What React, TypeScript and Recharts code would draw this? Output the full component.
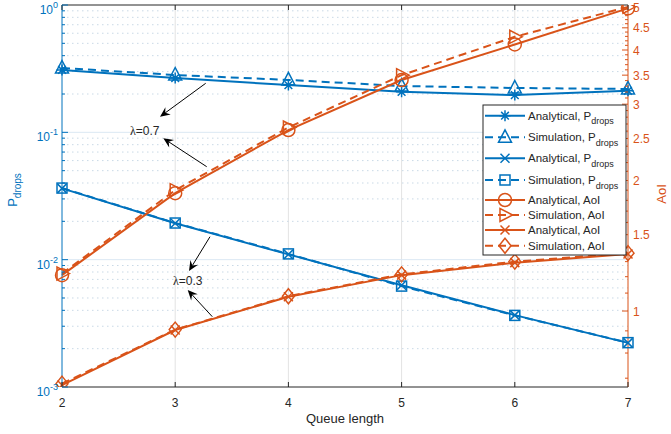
import React from "react";
import { LineChart, Line, XAxis, YAxis, ReferenceLine } from "recharts";

const BLUE = "#0072BD";
const ORANGE = "#D95319";
const INK = "#262626";
const FONT = "'Liberation Sans', Arial, sans-serif";
const PLOT_TOP = 5;

const queueLength = [2, 3, 4, 5, 6, 7];

// lambda = 0.7
const pDropsAnalytical07 = [0.309, 0.267, 0.235, 0.208, 0.196, 0.212];
const pDropsSimulation07 = [0.32, 0.282, 0.258, 0.231, 0.223, 0.219];
const aoiAnalytical07 = [1.21, 1.87, 2.615, 3.41, 4.12, 4.99];
const aoiSimulation07 = [1.22, 1.9, 2.65, 3.5, 4.29, 5.03];

// lambda = 0.3
const pDropsAnalytical03 = [0.0363, 0.0193, 0.011, 0.0063, 0.00367, 0.00222];
const pDropsSimulation03 = [0.0365, 0.0194, 0.0111, 0.0062, 0.00365, 0.00223];
const aoiAnalytical03 = [0.675, 0.904, 1.079, 1.21, 1.293, 1.354];
const aoiSimulation03 = [0.68, 0.906, 1.082, 1.215, 1.3, 1.36];

// axis ticks
const pDropsMajor = [0.001, 0.01, 0.1, 1];
const pDropsMinor = [0.001, 0.01, 0.1].flatMap((d) => [2, 3, 4, 5, 6, 7, 8, 9].map((m) => +(m * d).toPrecision(3)));
const aoiMajor = [1, 1.5, 2, 2.5, 3, 3.5, 4, 4.5, 5];
const aoiMinor = Array.from({ length: 44 }, (_, i) => +(0.7 + i * 0.1).toFixed(1)).filter((v) => !aoiMajor.includes(v));

const data = queueLength.map((q, i) => ({
  q,
  pa07: pDropsAnalytical07[i],
  ps07: pDropsSimulation07[i],
  pa03: pDropsAnalytical03[i],
  ps03: pDropsSimulation03[i],
  aa07: aoiAnalytical07[i],
  as07: aoiSimulation07[i],
  aa03: aoiAnalytical03[i],
  as03: aoiSimulation03[i],
}));

type Shape = "asterisk" | "triangle" | "x" | "square" | "circle" | "triangleRight" | "diamond";

const series: { key: string; axis: string; color: string; dashed: boolean; shape: Shape; label: string; sub?: string }[] = [
  { key: "pa07", axis: "left", color: BLUE, dashed: false, shape: "asterisk", label: "Analytical, P", sub: "drops" },
  { key: "ps07", axis: "left", color: BLUE, dashed: true, shape: "triangle", label: "Simulation, P", sub: "drops" },
  { key: "pa03", axis: "left", color: BLUE, dashed: false, shape: "x", label: "Analytical, P", sub: "drops" },
  { key: "ps03", axis: "left", color: BLUE, dashed: true, shape: "square", label: "Simulation, P", sub: "drops" },
  { key: "aa07", axis: "right", color: ORANGE, dashed: false, shape: "circle", label: "Analytical, AoI" },
  { key: "as07", axis: "right", color: ORANGE, dashed: true, shape: "triangleRight", label: "Simulation, AoI" },
  { key: "aa03", axis: "right", color: ORANGE, dashed: false, shape: "x", label: "Analytical, AoI" },
  { key: "as03", axis: "right", color: ORANGE, dashed: true, shape: "diamond", label: "Simulation, AoI" },
];

function Marker({ shape, cx, cy, color }: { shape: Shape; cx: number; cy: number; color: string }) {
  const s = { fill: "none", stroke: color, strokeWidth: 1.5 };
  switch (shape) {
    case "asterisk": {
      const r = 5.5;
      const d = r * 0.7;
      return (
        <path
          {...s}
          d={`M${cx - r},${cy}H${cx + r}M${cx},${cy - r}V${cy + r}M${cx - d},${cy - d}L${cx + d},${cy + d}M${cx - d},${cy + d}L${cx + d},${cy - d}`}
        />
      );
    }
    case "x": {
      const d = 4.5;
      return <path {...s} d={`M${cx - d},${cy - d}L${cx + d},${cy + d}M${cx - d},${cy + d}L${cx + d},${cy - d}`} />;
    }
    case "triangle":
      return <polygon {...s} points={`${cx},${cy - 7.5} ${cx + 6.5},${cy + 5} ${cx - 6.5},${cy + 5}`} />;
    case "triangleRight":
      return <polygon {...s} points={`${cx + 7.5},${cy} ${cx - 5},${cy - 6.5} ${cx - 5},${cy + 6.5}`} />;
    case "square":
      return <rect {...s} x={cx - 5} y={cy - 5} width={10} height={10} />;
    case "circle":
      return <circle {...s} cx={cx} cy={cy} r={6.5} />;
    case "diamond":
      return <polygon {...s} points={`${cx},${cy - 7.5} ${cx + 6},${cy} ${cx},${cy + 7.5} ${cx - 6},${cy}`} />;
  }
  return null;
}

function LeftTick({ x, y, payload }: any) {
  const v = payload.value;
  const major = pDropsMajor.includes(v);
  return (
    <g>
      <line x1={x} x2={x + (major ? 6 : 3)} y1={y} y2={y} stroke={BLUE} strokeWidth={1} />
      {major && (
        <text x={x - 4} y={y + 9} textAnchor="end" fill={BLUE} fontSize={12} fontFamily={FONT}>
          10
          <tspan dy={-6} fontSize={9}>
            {Math.round(Math.log10(v))}
          </tspan>
        </text>
      )}
    </g>
  );
}

function RightTick({ x, y, payload }: any) {
  const v = payload.value;
  const major = aoiMajor.includes(v);
  return (
    <g>
      <line x1={x} x2={x - (major ? 6 : 3)} y1={y} y2={y} stroke={ORANGE} strokeWidth={1} />
      {major && (
        <text x={x + 5} y={y + 4.5} textAnchor="start" fill={ORANGE} fontSize={12} fontFamily={FONT}>
          {v}
        </text>
      )}
    </g>
  );
}

function BottomTick({ x, y, payload }: any) {
  return (
    <g>
      <line x1={x} x2={x} y1={y} y2={y - 5} stroke={INK} />
      <line x1={x} x2={x} y1={PLOT_TOP} y2={PLOT_TOP + 5} stroke={INK} />
      <text x={x} y={y + 20} textAnchor="middle" fill={INK} fontSize={12} fontFamily={FONT}>
        {payload.value}
      </text>
    </g>
  );
}

function Arrow({ x1, y1, x2, y2 }: { x1: number; y1: number; x2: number; y2: number }) {
  const a = Math.atan2(y2 - y1, x2 - x1);
  const c = Math.cos(a);
  const s = Math.sin(a);
  const len = 10;
  const half = 4.5;
  const bx = x2 - len * c;
  const by = y2 - len * s;
  const nx = x2 - len * 0.65 * c;
  const ny = y2 - len * 0.65 * s;
  return (
    <g>
      <line x1={x1} y1={y1} x2={nx} y2={ny} stroke="#000" strokeWidth={1} />
      <polygon
        fill="#000"
        points={`${x2},${y2} ${bx + half * s},${by - half * c} ${nx},${ny} ${bx - half * s},${by + half * c}`}
      />
    </g>
  );
}

const legendRows = [115.7, 137.3, 158.3, 180, 200, 215, 230, 245.7];

function Overlay() {
  return (
    <svg width={671} height={434} style={{ position: "absolute", left: 0, top: 0, pointerEvents: "none" }}>
      {/* axis labels */}
      <text x={345} y={423} textAnchor="middle" fill={INK} fontSize={13} fontFamily={FONT}>
        Queue length
      </text>
      <text x={17} y={190} textAnchor="middle" fill={BLUE} fontSize={13} fontFamily={FONT} transform="rotate(-90 17 190)">
        P
        <tspan dy={4} fontSize={10}>
          drops
        </tspan>
      </text>
      <text x={666} y={194} textAnchor="middle" fill={ORANGE} fontSize={13} fontFamily={FONT} transform="rotate(-90 666 194)">
        AoI
      </text>

      {/* annotations */}
      <text x={130} y={135} fill={INK} fontSize={12} fontFamily={FONT}>
        <tspan fontFamily="'Liberation Serif', serif">λ</tspan>=0.7
      </text>
      <Arrow x1={205.7} y1={83.3} x2={160} y2={116.7} />
      <Arrow x1={206.7} y1={166.7} x2={163.3} y2={138.3} />
      <text x={173} y={285} fill={INK} fontSize={12} fontFamily={FONT}>
        <tspan fontFamily="'Liberation Serif', serif">λ</tspan>=0.3
      </text>
      <Arrow x1={210} y1={236.7} x2={189} y2={271} />
      <Arrow x1={212.3} y1={316.7} x2={187.7} y2={290} />

      {/* legend */}
      <rect x={483} y={105} width={143} height={150} fill="#fff" stroke={INK} strokeWidth={1} />
      {series.map((s, i) => {
        const y = legendRows[i];
        return (
          <g key={s.key}>
            <line
              x1={485}
              x2={525}
              y1={y}
              y2={y}
              stroke={s.color}
              strokeWidth={2}
              strokeDasharray={s.dashed ? "8 5" : undefined}
            />
            <Marker shape={s.shape} cx={505} cy={y} color={s.color} />
            <text x={528} y={y + 4} fill={INK} fontSize={11.5} fontFamily={FONT}>
              {s.label}
              {s.sub && (
                <tspan dy={4.5} fontSize={9}>
                  {s.sub}
                </tspan>
              )}
            </text>
          </g>
        );
      })}
    </svg>
  );
}

export default function App() {
  return (
    <div style={{ position: "absolute", left: 0, top: 0, width: 671, height: 434, background: "#fff" }}>
      <LineChart width={671} height={434} data={data} margin={{ top: PLOT_TOP, right: 0, bottom: 0, left: 0 }}>
        <XAxis
          dataKey="q"
          type="number"
          domain={[2, 7]}
          ticks={queueLength}
          interval={0}
          height={47}
          tickSize={0}
          tickMargin={0}
          tickLine={false}
          axisLine={{ stroke: INK }}
          tick={(p: any) => <BottomTick {...p} />}
        />
        <YAxis
          yAxisId="left"
          orientation="left"
          width={62}
          type="number"
          scale="log"
          domain={[0.001, 1]}
          allowDataOverflow
          ticks={[...pDropsMajor, ...pDropsMinor]}
          interval={0}
          tickSize={0}
          tickMargin={0}
          tickLine={false}
          axisLine={{ stroke: BLUE }}
          tick={(p: any) => <LeftTick {...p} />}
        />
        <YAxis
          yAxisId="right"
          orientation="right"
          width={43}
          type="number"
          scale="log"
          domain={[0.668, 5.08]}
          allowDataOverflow
          ticks={[...aoiMajor, ...aoiMinor]}
          interval={0}
          tickSize={0}
          tickMargin={0}
          tickLine={false}
          axisLine={{ stroke: ORANGE }}
          tick={(p: any) => <RightTick {...p} />}
        />

        {/* grid */}
        {[3, 4, 5, 6].map((v) => (
          <ReferenceLine key={`vx${v}`} x={v} yAxisId="left" stroke="#e3e3e3" strokeWidth={1} />
        ))}
        {[0.01, 0.1].map((v) => (
          <ReferenceLine key={`hy${v}`} y={v} yAxisId="left" stroke="#dbe8f3" strokeWidth={1} />
        ))}
        {pDropsMinor.map((v) => (
          <ReferenceLine key={`my${v}`} y={v} yAxisId="left" stroke="#c9d9e6" strokeWidth={1} strokeDasharray="1.5 3.5" />
        ))}
        <ReferenceLine y={1} yAxisId="left" stroke={INK} strokeWidth={1} />

        {series.map((s) => (
          <Line
            key={s.key}
            type="linear"
            dataKey={s.key}
            yAxisId={s.axis}
            stroke={s.color}
            strokeWidth={2}
            strokeDasharray={s.dashed ? "8 5" : undefined}
            isAnimationActive={false}
            activeDot={false}
            dot={(p: any) => <Marker key={`${s.key}-${p.index}`} shape={s.shape} cx={p.cx} cy={p.cy} color={s.color} />}
          />
        ))}
      </LineChart>
      <Overlay />
    </div>
  );
}
